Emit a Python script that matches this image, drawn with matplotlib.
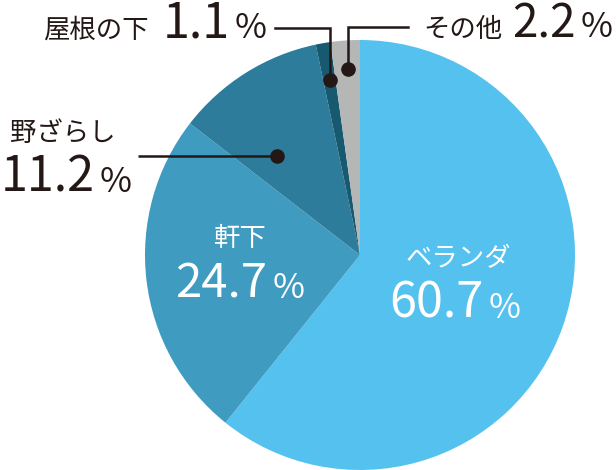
import matplotlib
matplotlib.use("Agg")
import matplotlib.pyplot as plt
import numpy as np

labels = ["ベランダ", "軒下", "野ざらし", "屋根の下", "その他"]
values = [60.7, 24.7, 11.2, 1.1, 2.2]
colors = ["#55c1ef", "#409bc1", "#2e7c9b", "#175a70", "#b5b6b6"]

plt.rcParams["font.family"] = ["Noto Sans CJK JP", "DejaVu Sans"]

W, H = 616, 470
CX, CY, R = 360, 255, 215
INK = "#231815"

fig = plt.figure(figsize=(W / 100, H / 100), dpi=100)
ax = fig.add_axes([0, 0, 1, 1])

# y axis is flipped so data units == pixels from the top-left;
# startangle -90 + counterclock in a flipped axis = clockwise from 12 o'clock
ax.pie(values, colors=colors, startangle=-90, counterclock=True,
       center=(CX, CY), radius=R, wedgeprops=dict(linewidth=0))
ax.set_xlim(0, W)
ax.set_ylim(H, 0)
ax.set_aspect("equal")
ax.axis("off")

renderer = fig.canvas.get_renderer()


def pct_text(x, y, num, size, psize, color, ha="left", gap=5):
    t1 = ax.text(x, y, num, fontsize=size, color=color, ha="left", va="baseline")
    b1 = t1.get_window_extent(renderer=renderer)
    t2 = ax.text(x + b1.width + gap, y, "%", fontsize=psize, color=color,
                 ha="left", va="baseline")
    b2 = t2.get_window_extent(renderer=renderer)
    if ha == "center":
        total = b1.width + gap + b2.width
        shift = total / 2
        t1.set_x(x - shift)
        t2.set_x(x - shift + b1.width + gap)


def dot_at(angle, frac):
    # angle measured clockwise from the top of the pie
    a = np.radians(angle)
    return CX + R * frac * np.sin(a), CY - R * frac * np.cos(a)


# white labels inside the big slices
ax.text(458, 266, labels[0], fontsize=19, color="white", ha="center", va="baseline")
pct_text(455, 318, "60.7", 35, 25, "white", ha="center")
ax.text(240, 246, labels[1], fontsize=19, color="white", ha="center", va="baseline")
pct_text(240, 298, "24.7", 34, 25, "white", ha="center")

# 野ざらし
ax.text(10, 141, labels[2], fontsize=19, color=INK, ha="left", va="baseline")
pct_text(1, 192, "11.2", 35, 25, INK)
px, py = dot_at(320, 0.601)
ax.plot([138, px], [py, py], color=INK, lw=1.8, solid_capstyle="butt")
ax.plot(px, py, "o", color=INK, ms=9.5)

# 屋根の下
ax.text(43, 38, labels[3], fontsize=19, color=INK, ha="left", va="baseline")
pct_text(163, 38, "1.1", 35, 25, INK)
px, py = dot_at(350.3, 0.826)
ax.plot([275, px, px], [28, 28, py], color=INK, lw=1.8, solid_joinstyle="miter")
ax.plot(px, py, "o", color=INK, ms=9.5)

# その他
ax.text(423, 37, labels[4], fontsize=19, color=INK, ha="left", va="baseline")
pct_text(512, 37, "2.2", 33, 25, INK)
px, py = dot_at(356.3, 0.867)
ax.plot([408, px, px], [27, 27, py], color=INK, lw=1.8, solid_joinstyle="miter")
ax.plot(px, py, "o", color=INK, ms=9.5)

fig.savefig("out.png", dpi=100)
